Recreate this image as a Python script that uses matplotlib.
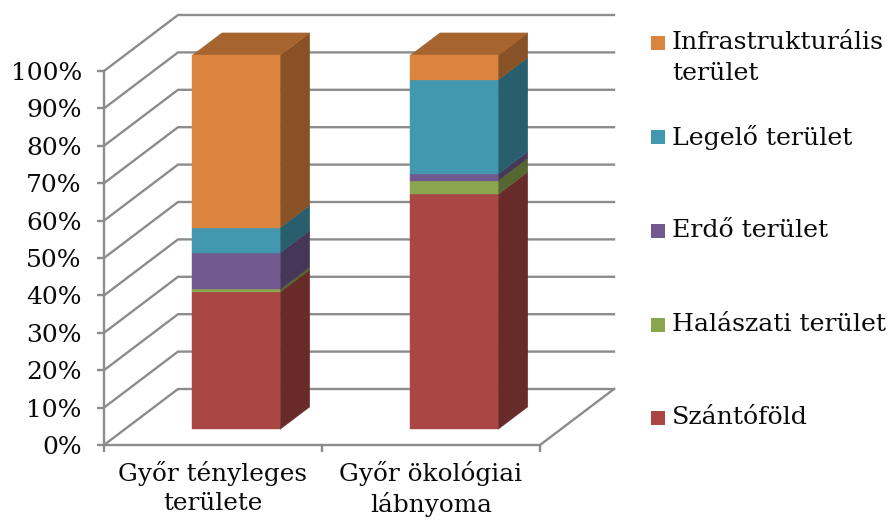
import matplotlib
matplotlib.use('Agg')
import matplotlib.pyplot as plt
from matplotlib.patches import Rectangle
from matplotlib.ticker import PercentFormatter

categories = ['Győr tényleges\nterülete', 'Győr ökológiai\nlábnyoma']
series = ['Szántóföld', 'Halászati terület', 'Erdő terület', 'Legelő terület',
          'Infrastrukturális\nterület']
szanto = [36.7, 62.8]
halaszati = [0.7, 3.7]
erdo = [9.8, 1.7]
legelo = [6.7, 25.2]
infra = [46.1, 6.6]
values = [szanto, halaszati, erdo, legelo, infra]
colours = ['#AA4643', '#89A54E', '#71588F', '#4198AF', '#DB843D']
yticks = list(range(0, 101, 10))

W, H = 891, 520
grid_col = '#8C8C8C'
font = 'DejaVu Serif'
text_col = '#0A0A0A'

# Depth of the fake 3D box, in data units
DX = 74 / 218
DY = 56 / 3.74
bar_w = 0.403
bar_off = 0.31
d0, d1 = 0.28, 0.68

plt.rcParams['font.family'] = font
fig = plt.figure(figsize=(W / 100, H / 100), dpi=100)
ax = fig.add_axes([104 / W, (H - 445) / H, (540 - 104) / W, (445 - 71) / H])
ax.set_xlim(0, 2)
ax.set_ylim(0, 100)


def shade(c, f):
    r, g, b = matplotlib.colors.to_rgb(c)
    return (r * f, g * f, b * f)


def face(pts, c, z=3):
    ax.fill([p[0] for p in pts], [p[1] for p in pts], color=c, lw=0.3,
            clip_on=False, zorder=z)


# Walls: every gridline runs back along the side wall, then along the back wall
for v in yticks:
    ax.plot([0, DX, 2 + DX], [v, v + DY, v + DY], color=grid_col, lw=1.7,
            clip_on=False, zorder=1)
ax.plot([2, 2 + DX], [0, DY], color=grid_col, lw=1.7, clip_on=False, zorder=1)

# Stacked bars
for i in range(len(categories)):
    left = i + bar_off
    right = left + bar_w
    bottom = 0
    for vals, c in zip(values, colours):
        top = bottom + vals[i]
        fl, fr = left + d0 * DX, right + d0 * DX
        bl, br = left + d1 * DX, right + d1 * DX
        yf0, yf1 = bottom + d0 * DY, top + d0 * DY
        yb0, yb1 = bottom + d1 * DY, top + d1 * DY
        face([(fr, yf0), (br, yb0), (br, yb1), (fr, yf1)], shade(c, 0.62))
        face([(fl, yf0), (fr, yf0), (fr, yf1), (fl, yf1)], c, 4)
        bottom = top
    face([(fl, yf1), (fr, yf1), (br, yb1), (bl, yb1)], shade(colours[-1], 0.76))

for s in ['top', 'right']:
    ax.spines[s].set_visible(False)
for s in ['left', 'bottom']:
    ax.spines[s].set_color(grid_col)
    ax.spines[s].set_linewidth(1.7)

ax.set_yticks(yticks)
ax.yaxis.set_major_formatter(PercentFormatter(100, decimals=0))
ax.tick_params(axis='y', length=5, width=1.7, color=grid_col, pad=11,
               labelsize=18, labelcolor=text_col)
ax.set_xticks([0, 1, 2])
ax.set_xticklabels([])
ax.tick_params(axis='x', which='major', length=5, width=1.7, color=grid_col)
ax.set_xticks([0.5, 1.5], minor=True)
ax.set_xticklabels(categories, minor=True, fontsize=17.8, color=text_col,
                   linespacing=1.32)
ax.tick_params(axis='x', which='minor', length=0, pad=11.5)

# Legend, drawn by hand because the two-line entry hangs from its first line
legend_y = [418, 325, 231, 137, 43]
for name, c, y in zip(series, colours, legend_y):
    fig.add_artist(Rectangle((651 / W, 1 - (y + 7) / H), 14 / W, 14 / H,
                             transform=fig.transFigure, color=c, lw=0))
    fig.text(672 / W, 1 - (y - 12) / H, name, fontsize=18.2, color=text_col,
             va='top', ha='left', linespacing=1.45)

fig.savefig('out.png', dpi=100)
